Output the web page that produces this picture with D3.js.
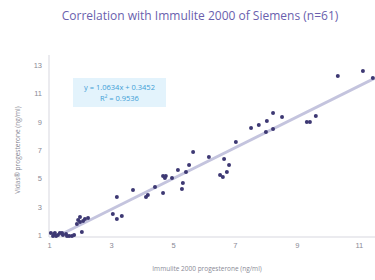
<!DOCTYPE html>
<html>
<head>
<meta charset="utf-8">
<script src="https://cdn.jsdelivr.net/npm/d3@7"></script>
<style>
  body { margin: 0; background: #fff; }
  svg { display: block; font-family: "Open Sans", "Noto Sans", sans-serif; }
</style>
</head>
<body>
<svg width="375" height="280"></svg>
<script>
// Immulite 2000 (x) vs Vidas (y), ng/ml
const immulite = [
  1.06, 1.13, 1.19, 1.29, 1.35, 1.45, 1.55, 1.65, 1.74, 1.23,
  1.16, 1.42, 1.58, 1.81,
  1.90, 2.00, 2.10, 2.26, 2.06, 1.94, 2.16, 2.00,
  3.19, 3.06, 3.19, 3.35,
  3.71, 4.13, 4.19, 4.42, 4.68, 4.68, 4.77, 4.97, 4.74,
  5.16, 5.42, 5.32, 5.29, 5.52, 5.65, 6.16,
  6.65, 6.81, 6.74, 6.52, 6.61, 7.03,
  7.52, 7.77, 8.03, 8.23, 8.00, 8.23, 8.52,
  9.32, 9.42, 9.61,
  10.32, 11.13, 11.45
];
const vidas = [
  1.14, 0.93, 1.14, 1.00, 1.14, 1.00, 1.07, 0.93, 0.93, 0.93,
  1.07, 1.14, 0.93, 1.00,
  1.78, 2.27, 1.99, 2.20, 1.21, 2.06, 2.13, 1.92,
  3.68, 2.48, 2.13, 2.34,
  4.18, 3.68, 3.82, 4.39, 3.96, 5.16, 5.16, 5.02, 5.02,
  5.59, 5.45, 4.67, 4.25, 5.94, 6.86, 6.50,
  6.36, 5.94, 5.45, 5.23, 5.09, 7.56,
  8.55, 8.76, 9.05, 9.61, 8.27, 8.48, 9.33,
  8.97, 8.97, 9.40,
  12.22, 12.57, 12.08
];
// trend line ends as drawn
const trendX = [1.35, 11.52];
const trendY = [1.0, 12.08];
const xTicks = [1, 3, 5, 7, 9, 11];
const yTicks = [1, 3, 5, 7, 9, 11, 13];
const equation = ["y = 1.0634x + 0.3452", "R² = 0.9536"];

const svg = d3.select("svg");
const x = d3.scaleLinear().domain([1, 11.52]).range([49, 375]);
const y = d3.scaleLinear().domain([1, 13]).range([235, 65]);

// axes
const xAxis = svg.append("g")
  .attr("transform", "translate(0," + 237 + ")")
  .call(d3.axisBottom(x).tickValues(xTicks).tickSize(0).tickPadding(6));
const yAxis = svg.append("g")
  .attr("transform", "translate(" + 49 + ",0)")
  .call(d3.axisLeft(y).tickValues(yTicks).tickSize(0).tickPadding(7));

[xAxis, yAxis].forEach(a => {
  a.select(".domain").attr("stroke", "#e4e4ea").attr("stroke-width", 1.5);
  a.selectAll("text").attr("fill", "#8a8a96").attr("font-size", 7.5);
});
xAxis.select(".domain").attr("d", "M49,0H375");
yAxis.select(".domain").attr("d", "M0,237V55");

// trend line
svg.append("line")
  .attr("x1", x(trendX[0])).attr("y1", y(trendY[0]))
  .attr("x2", x(trendX[1])).attr("y2", y(trendY[1]))
  .attr("stroke", "#c4c4de")
  .attr("stroke-width", 3);

// points
svg.append("g")
  .selectAll("circle")
  .data(immulite)
  .enter()
  .append("circle")
  .attr("cx", (d) => x(d))
  .attr("cy", (d, i) => y(vidas[i]))
  .attr("r", 2)
  .attr("fill", "#3d3873");

// equation box
svg.append("rect")
  .attr("x", 73).attr("y", 78)
  .attr("width", 93).attr("height", 29)
  .attr("fill", "#e3f3fc");
svg.append("g")
  .selectAll("text")
  .data(equation)
  .enter()
  .append("text")
  .attr("x", 119.5)
  .attr("y", (d, i) => 90 + i * 11)
  .attr("text-anchor", "middle")
  .attr("font-size", 7.5)
  .attr("fill", "#3f9ed6")
  .text((d) => d);

// titles
svg.append("text")
  .attr("x", 200).attr("y", 20)
  .attr("text-anchor", "middle")
  .attr("font-size", 12)
  .attr("font-weight", 500)
  .attr("fill", "#6a5fae")
  .text("Correlation with Immulite 2000 of Siemens (n=61)");

svg.append("text")
  .attr("x", 207).attr("y", 271)
  .attr("text-anchor", "middle")
  .attr("font-size", 6.5)
  .attr("fill", "#8a8a96")
  .text("Immulite 2000 progesterone (ng/ml)");

svg.append("text")
  .attr("transform", "translate(20,150) rotate(-90)")
  .attr("text-anchor", "middle")
  .attr("font-size", 6.5)
  .attr("fill", "#8a8a96")
  .text("Vidas® progesterone (ng/ml)");
</script>
</body>
</html>
